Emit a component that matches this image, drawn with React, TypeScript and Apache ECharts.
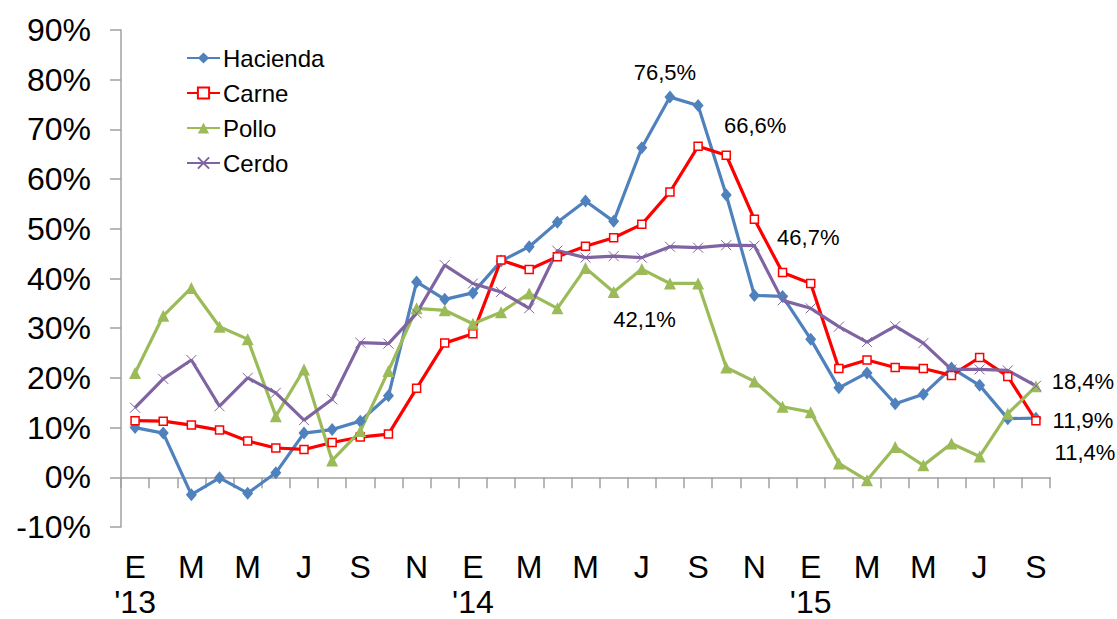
import React, { useEffect, useRef } from "react";
import * as echarts from "echarts";

const months = ["E","F","M","A","M","J","J","A","S","O","N","D","E","F","M","A","M","J","J","A","S","O","N","D","E","F","M","A","M","J","J","A","S"];
const yearTags: Record<number, string> = { 0: "'13", 12: "'14", 24: "'15" };

const hacienda = [10.0, 8.9, -3.5, -0.1, -3.2, 0.9, 8.9, 9.6, 11.3, 16.4, 39.3, 35.8, 37.1, 43.5, 46.4, 51.3, 55.6, 51.5, 66.3, 76.5, 74.8, 56.8, 36.6, 36.4, 27.8, 18.0, 21.0, 14.8, 16.7, 22.0, 18.5, 11.8, 11.9];
const carne = [11.4, 11.3, 10.5, 9.5, 7.3, 5.9, 5.6, 7.0, 8.1, 8.7, 17.9, 27.0, 28.9, 43.7, 41.8, 44.4, 46.5, 48.2, 50.9, 57.4, 66.6, 64.8, 51.9, 41.2, 39.0, 21.9, 23.6, 22.1, 21.9, 20.5, 24.1, 20.3, 11.4];
const pollo = [21.0, 32.5, 38.1, 30.3, 27.8, 12.3, 21.7, 3.4, 9.3, 21.4, 34.0, 33.6, 30.9, 33.2, 37.0, 34.0, 42.1, 37.3, 41.9, 39.0, 39.0, 22.1, 19.3, 14.2, 13.1, 2.8, -0.6, 6.1, 2.4, 6.8, 4.2, 12.8, 18.3];
const cerdo = [14.0, 19.8, 23.6, 14.3, 20.0, 17.0, 11.5, 15.7, 27.1, 26.9, 33.0, 42.7, 39.0, 37.3, 34.0, 45.6, 44.2, 44.5, 44.2, 46.4, 46.2, 46.7, 46.6, 35.6, 34.0, 30.3, 27.2, 30.4, 27.0, 21.7, 21.7, 21.5, 18.4];

// which points carry a value label, and where the label sits relative to the point
const labelSpecs: Record<string, { index: number; offset: [number, number] }[]> = {
  Hacienda: [{ index: 19, offset: [-5, -25] }, { index: 32, offset: [47, 2] }],
  Carne: [{ index: 20, offset: [57, -21] }, { index: 32, offset: [49, 32] }],
  Pollo: [{ index: 16, offset: [59, 51] }],
  Cerdo: [{ index: 21, offset: [82, -8] }, { index: 32, offset: [47, -4] }],
};

const FONT = "'Liberation Sans', Arial, sans-serif";

function fmt(v: number) {
  return v.toFixed(1).replace(".", ",") + "%";
}

function buildData(name: string, values: number[]) {
  const specs = labelSpecs[name] || [];
  return values.map((v, i) => {
    const s = specs.find((x) => x.index === i);
    if (!s) return v;
    return {
      value: v,
      label: {
        show: true,
        position: "inside",
        offset: s.offset,
        formatter: () => fmt(v),
        fontSize: 22,
        fontFamily: FONT,
        color: "#000",
      },
    };
  });
}

export default function App() {
  const ref = useRef<HTMLDivElement>(null);
  useEffect(() => {
    document.body.style.margin = "0";
    const chart = echarts.init(ref.current!, undefined, { renderer: "svg" });
    const xPath = "path://M0,0 L10,10 M10,0 L0,10";
    chart.setOption({
      animation: false,
      backgroundColor: "#fff",
      textStyle: { fontFamily: FONT },
      grid: { left: 121, right: 67, top: 30, bottom: 92, containLabel: false, outerBoundsMode: "none" },
      legend: {
        orient: "vertical",
        left: 181,
        top: 41,
        itemWidth: 33,
        itemHeight: 14,
        itemGap: 11,
        textStyle: { fontSize: 24, color: "#000", fontFamily: FONT, padding: [0, 0, 0, -2] },
        data: ["Hacienda", "Carne", "Pollo", "Cerdo"],
      },
      xAxis: {
        type: "category",
        data: months,
        boundaryGap: true,
        axisLine: { show: true, onZero: true, lineStyle: { color: "#a0a0a0", width: 1.5 } },
        axisTick: { show: true, interval: 0, length: 11, lineStyle: { color: "#a0a0a0", width: 1.5 } },
        axisLabel: {
          interval: 1,
          margin: 22,
          fontSize: 32,
          lineHeight: 35,
          color: "#000",
          fontFamily: FONT,
          formatter: (val: string, idx: number) => (yearTags[idx] ? val + "\n" + yearTags[idx] : val),
        },
        splitLine: { show: false },
      },
      yAxis: {
        type: "value",
        min: -10,
        max: 90,
        interval: 10,
        axisLine: { show: true, lineStyle: { color: "#a0a0a0", width: 1.5 } },
        axisTick: { show: true, length: 11, lineStyle: { color: "#a0a0a0", width: 1.5 } },
        axisLabel: { formatter: "{value}%", fontSize: 32, color: "#000", margin: 30, fontFamily: FONT },
        splitLine: { show: false },
      },
      series: [
        {
          name: "Hacienda",
          type: "line",
          data: buildData("Hacienda", hacienda),
          symbol: "diamond",
          symbolSize: [11, 13],
          lineStyle: { color: "#4F81BD", width: 3.2 },
          itemStyle: { color: "#4F81BD" },
        },
        {
          name: "Carne",
          type: "line",
          data: buildData("Carne", carne),
          symbol: "rect",
          symbolSize: 8,
          lineStyle: { color: "#FF0000", width: 3.2 },
          itemStyle: { color: "#FFFFFF", borderColor: "#FF0000", borderWidth: 1.5 },
        },
        {
          name: "Pollo",
          type: "line",
          data: buildData("Pollo", pollo),
          symbol: "triangle",
          symbolSize: 12,
          lineStyle: { color: "#9BBB59", width: 3.2 },
          itemStyle: { color: "#9BBB59" },
        },
        {
          name: "Cerdo",
          type: "line",
          data: buildData("Cerdo", cerdo),
          symbol: xPath,
          symbolSize: 10,
          lineStyle: { color: "#8064A2", width: 3.2 },
          itemStyle: { color: "#8064A2", borderColor: "#8064A2", borderWidth: 1 },
        },
      ],
    });
    return () => chart.dispose();
  }, []);
  return (
    <div
      ref={ref}
      style={{ position: "fixed", left: 0, top: 0, width: 1117, height: 619, background: "#fff" }}
    />
  );
}
